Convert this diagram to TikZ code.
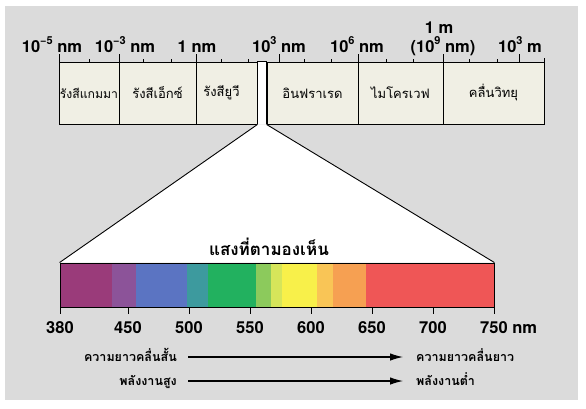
\documentclass[tikz,border=0pt]{standalone}
\usepackage{fontspec}
\setmainfont{TeX Gyre Heros}
\newfontfamily\thaifont[Script=Thai]{Loma}
\usetikzlibrary{arrows.meta}
\newcommand\spx[1]{\raisebox{0.45em}{\fontsize{11}{11}\selectfont #1}}
\definecolor{bggray}{HTML}{DBDBDB}
\definecolor{cream}{HTML}{F0EFE4}
\definecolor{ca}{HTML}{9A3B7A}
\definecolor{cb}{HTML}{8C5399}
\definecolor{cc}{HTML}{5B74C2}
\definecolor{cd}{HTML}{3D9A9E}
\definecolor{ce}{HTML}{22B15F}
\definecolor{cf}{HTML}{8CCA5C}
\definecolor{cg}{HTML}{D6E55A}
\definecolor{ch}{HTML}{F8F04A}
\definecolor{ci}{HTML}{F9C556}
\definecolor{cj}{HTML}{F6A052}
\definecolor{ck}{HTML}{EF5656}
\begin{document}
\begin{tikzpicture}[x=1pt,y=-1pt,
  wbox/.style={draw, fill=cream, line width=0.9pt, minimum height=62pt, inner sep=0pt,
    font=\thaifont\fontsize{13}{15}\selectfont},
  numlbl/.style={font=\fontsize{16.5}{16}\selectfont\bfseries, inner sep=0pt, anchor=base},
  tick/.style={line width=0.9pt},
  thlbl/.style={font=\thaifont\bfseries\fontsize{12.5}{14}\selectfont, inner sep=0pt},
  arr/.style={line width=1.1pt, -{Latex[length=13pt,width=7.5pt]}}]
\useasboundingbox (0,0) rectangle (586,408);
\fill[white] (0,0) rectangle (586,408);
\fill[bggray] (5,6) rectangle (578,400);

% top bar
\node[wbox, minimum width=60pt, font=\thaifont\fontsize{12.2}{15}\selectfont] (gamma) at (89,93) {รังสีแกมมา};
\node[wbox, minimum width=77pt]  (xray)  at (157.5,93) {รังสีเอ็กซ์};
\node[wbox, minimum width=61pt]  (uv)    at (226.5,93) {\hspace*{-10pt}รังสียูวี};
\node[wbox, minimum width=91pt]  (ir)    at (312.5,93) {อินฟราเรด};
\node[wbox, minimum width=85pt]  (mw)    at (400.5,93) {ไมโครเวฟ};
\node[wbox, minimum width=101pt] (radio) at (493.5,93) {คลื่นวิทยุ};

% visible cone
\coordinate (gl) at (uv.south east);
\coordinate (gr) at (ir.south west);
\fill[white] (uv.north east) rectangle (gr);
\draw[line width=0.9pt] (uv.north east) -- (ir.north west);

% spectrum bands
\fill[ca] (60,263) rectangle (112,307);
\fill[cb] (112,263) rectangle (136,307);
\fill[cc] (136,263) rectangle (187,307);
\fill[cd] (187,263) rectangle (208,307);
\fill[ce] (208,263) rectangle (256,307);
\fill[cf] (256,263) rectangle (271,307);
\fill[cg] (271,263) rectangle (282,307);
\fill[ch] (282,263) rectangle (317,307);
\fill[ci] (317,263) rectangle (333,307);
\fill[cj] (333,263) rectangle (366,307);
\fill[ck] (366,263) rectangle (494,307);
\node[draw, line width=0.9pt, minimum width=434pt, minimum height=44pt, inner sep=0pt] (spec) at (277,285) {};

\fill[white] (gl) -- (gr) -- (spec.north east) -- (spec.north west) -- cycle;
\draw[line width=0.9pt] (gl) -- (spec.north west);
\draw[line width=0.9pt] (gr) -- (spec.north east);
\draw[line width=0.9pt] (uv.north east) -- (gl);
\draw[line width=0.9pt] (ir.north west) -- (gr);

\node[font=\thaifont\bfseries\fontsize{17}{19}\selectfont, inner sep=0pt, anchor=base] (vis) at (269,255) {แสงที่ตามองเห็น};

% top ticks
\foreach \x in {59,119,196,279,358,443,519}
  \draw[tick] (\x,54) -- (\x,62);
\foreach \x in {89,143,171,221,248,304,331,386,413,469,497}
  \draw[tick] (\x,59) -- (\x,62);
\draw[tick] (544,58) -- (544,62);

% top labels
\node[numlbl] (t1) at (52,52)  {10\spx{−5} nm};
\node[numlbl] (t2) at (125,52) {10\spx{−3} nm};
\node[numlbl] (t3) at (197,52) {1 nm};
\node[numlbl] (t4) at (279,52) {10\spx{3} nm};
\node[numlbl] (t5) at (357,52) {10\spx{6} nm};
\node[numlbl] (t6) at (443,52) {(10\spx{9} nm)};
\node[numlbl] (t7) at (439,33) {1 m};
\node[numlbl] (t8) at (520,52) {10\spx{3} m};

% spectrum ticks and labels
\foreach \x/\v in {60/380,128/450,189/500,250/550,311/600,372/650,433/700}{
  \draw[tick] (\x,307) -- (\x,314);
  \node[numlbl] (n\v) at (\x,333) {\v};
}
\draw[tick] (494,307) -- (494,314);
\node[numlbl, anchor=base west] (n750) at (480,333) {750 nm};

% arrows
\node[thlbl, anchor=base east] (shortw) at (177,361) {ความยาวคลื่นสั้น};
\node[thlbl, anchor=base west] (longw)  at (416,361) {ความยาวคลื่นยาว};
\node[thlbl, anchor=base east] (highe)  at (177,385) {พลังงานสูง};
\node[thlbl, anchor=base west] (lowe)   at (416,385) {พลังงานต่ำ};
\draw[arr] (shortw.east |- 0,357) ++(11,0) coordinate (a1s) -- (403,357) coordinate (a1e);
\draw[arr] (highe.east |- 0,381) ++(11,0) coordinate (a2s) -- (403,381) coordinate (a2e);
\end{tikzpicture}
\end{document}
